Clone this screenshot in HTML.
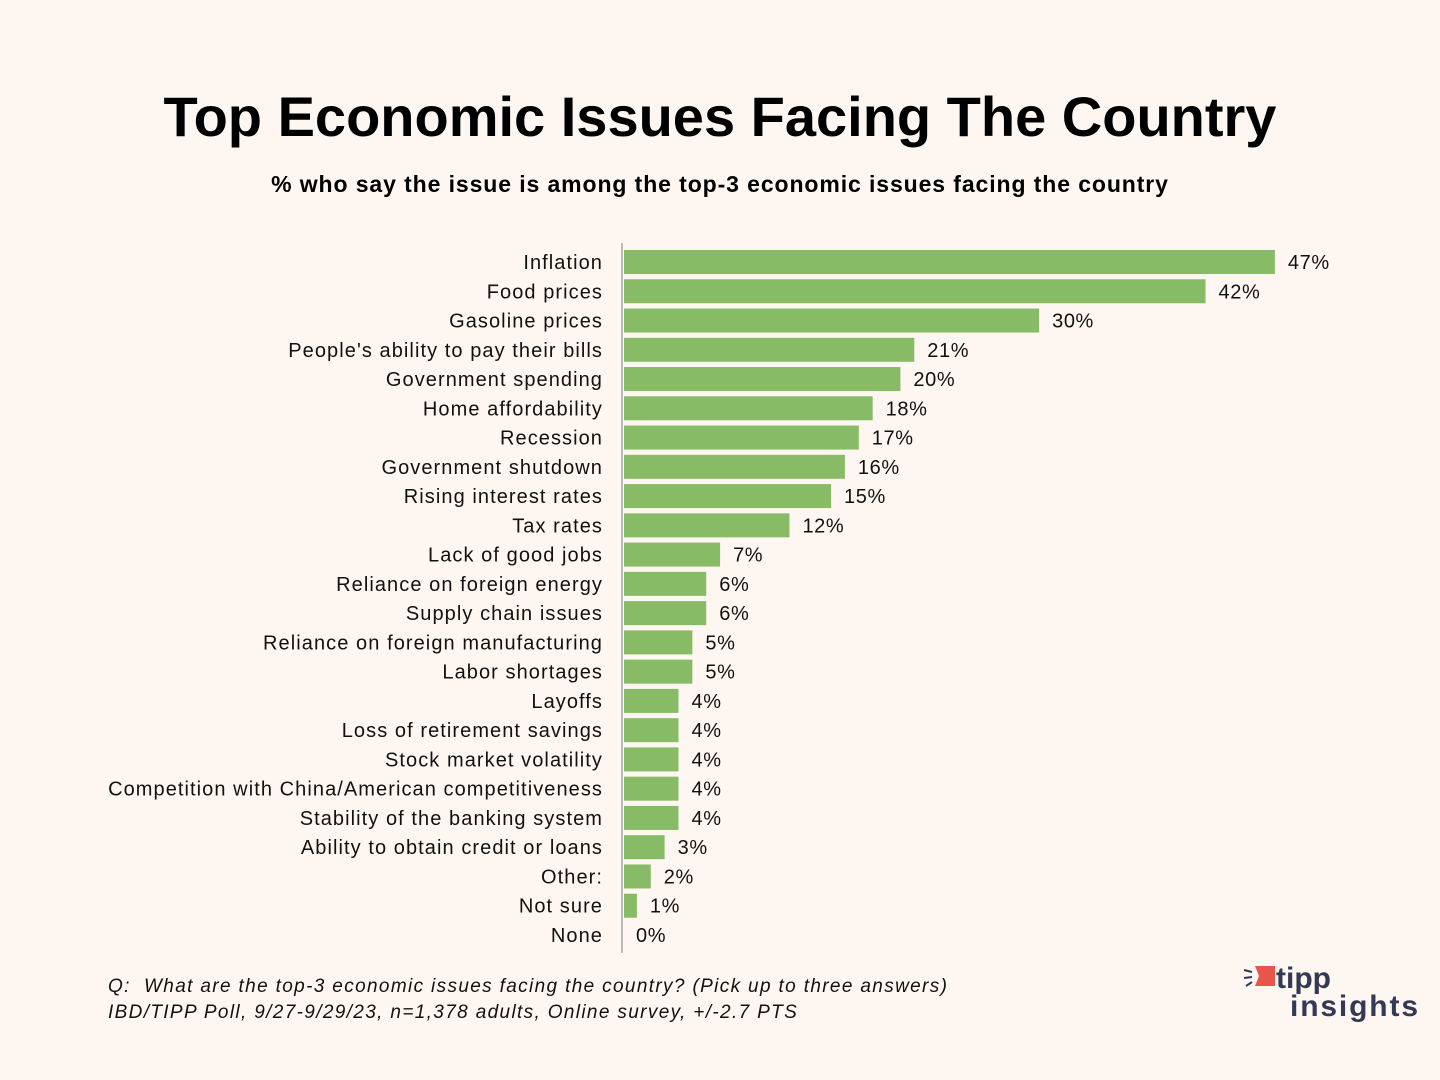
<!DOCTYPE html>
<html><head><meta charset="utf-8"><style>
body{margin:0;width:1440px;height:1080px;background:#fdf6f1;font-family:"Liberation Sans",sans-serif;overflow:hidden;position:relative}
#title{position:absolute;top:84px;left:0;width:1440px;text-align:center;font-size:56px;font-weight:bold;color:#000}
#sub{position:absolute;top:171px;left:0;width:1440px;text-align:center;font-size:23px;font-weight:bold;color:#000;letter-spacing:0.9px}
.foot{position:absolute;left:108px;font-size:19px;font-style:italic;color:#111;letter-spacing:1.35px}
</style></head><body>
<div id="title">Top Economic Issues Facing The Country</div>
<div id="sub">% who say the issue is among the top-3 economic issues facing the country</div>
<svg id="chart" width="1440" height="1080" style="position:absolute;left:0;top:0"></svg>
<div class="foot" style="top:976px">Q:&nbsp; What are the top-3 economic issues facing the country? (Pick up to three answers)</div>
<div class="foot" style="top:1002px">IBD/TIPP Poll, 9/27-9/29/23, n=1,378 adults, Online survey, +/-2.7 PTS</div>
<div style="position:absolute;left:1242px;top:958px;width:180px;height:70px">
<svg width="180" height="70">
<g stroke="#343a55" stroke-width="2"><line x1="2" y1="12" x2="10" y2="14"/><line x1="2" y1="20" x2="10" y2="19"/><line x1="4" y1="28" x2="10" y2="24"/></g>
<polygon points="13,8 33,8 33,28 13,28 17,18" fill="#e8564b"/>
<text x="34" y="30" font-family="Liberation Sans" font-weight="bold" font-size="30" fill="#343a55">tipp</text>
<text x="48" y="58" font-family="Liberation Sans" font-weight="bold" font-size="30" fill="#343a55" textLength="128">insights</text>
</svg></div>
<script>
const categories=["Inflation","Food prices","Gasoline prices","People's ability to pay their bills","Government spending","Home affordability","Recession","Government shutdown","Rising interest rates","Tax rates","Lack of good jobs","Reliance on foreign energy","Supply chain issues","Reliance on foreign manufacturing","Labor shortages","Layoffs","Loss of retirement savings","Stock market volatility","Competition with China/American competitiveness","Stability of the banking system","Ability to obtain credit or loans","Other:","Not sure","None"];
const values=[47,42,30,21,20,18,17,16,15,12,7,6,6,5,5,4,4,4,4,4,3,2,1,0];
const ns="http://www.w3.org/2000/svg";
const svg=document.getElementById('chart');
const x0=623, pxPer=13.87, y0=262, step=29.26, bh=24;
const xs=v=>x0+v*pxPer;
const ys=i=>y0+i*step;
function mk(t,a){const e=document.createElementNS(ns,t);for(const k in a)e.setAttribute(k,a[k]);svg.appendChild(e);return e;}
categories.forEach((c,i)=>{
  const r=mk('rect',{x:x0+1,y:ys(i)-bh/2,width:Math.max(0,xs(values[i])-x0-1),height:bh,fill:'#87bb66'});
  
  
  const l=mk('text',{x:603,y:ys(i)+7,'text-anchor':'end','font-size':'20','font-family':'Liberation Sans',fill:'#111','letter-spacing':'1.07'});
  l.textContent=c;
  
  
  const v=mk('text',{x:xs(values[i])+13,y:ys(i)+7,'font-size':'20','font-family':'Liberation Sans',fill:'#111','letter-spacing':'0.6'});
  v.textContent=values[i]+'%';
  
  
});
const ax=mk('line',{x1:x0-1,x2:x0-1,y1:243,y2:953,stroke:'#bbb','stroke-width':2});


</script>
</body></html>
